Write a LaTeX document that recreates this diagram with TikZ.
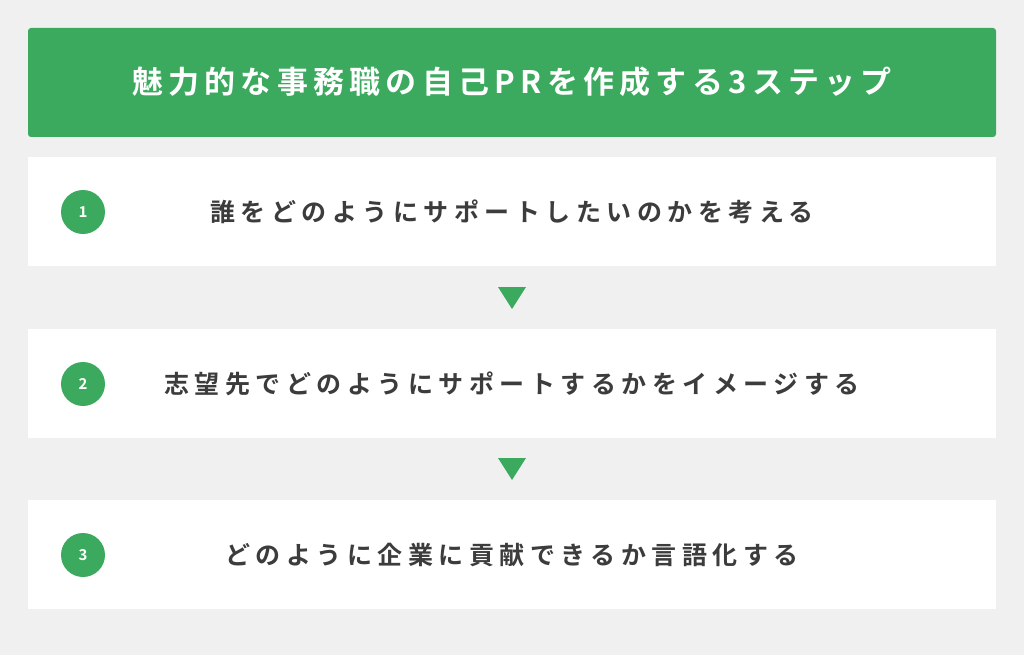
\documentclass[tikz,border=0pt]{standalone}
\usepackage{fontspec}
\newfontfamily\cjk{Noto Sans CJK JP Bold}
\newfontfamily\cjktitle[LetterSpace=17]{Noto Sans CJK JP Bold}
\newfontfamily\cjkstep[LetterSpace=22]{Noto Sans CJK JP Bold}
\definecolor{bg}{HTML}{F0F0F0}
\definecolor{grn}{HTML}{3BAA5E}
\definecolor{txt}{HTML}{3C3C3C}
\tikzset{
 card/.style={fill=white,draw=none},
 num/.style={circle,fill=grn,minimum size=44pt,inner sep=0pt,text=white,font=\cjk\fontsize{15}{15}\selectfont},
 steptext/.style={text=txt,font=\cjkstep\fontsize{25}{25}\selectfont},
 tri/.style={fill=grn,draw=none}
}
\begin{document}
\begin{tikzpicture}[x=1pt,y=-1pt]
\fill[bg] (0,0) rectangle (1024,655);
\useasboundingbox (0,0) rectangle (1024,655);
\fill[grn,rounded corners=3pt] (28,28) rectangle (996,137);
\node[text=white,font=\cjktitle\fontsize{31}{31}\selectfont] (title) at (512,82) {魅力的な事務職の自己PRを作成する3ステップ};
\foreach \i/\y/\t in {1/157/誰をどのようにサポートしたいのかを考える,2/329/志望先でどのようにサポートするかをイメージする,3/500/どのように企業に貢献できるか言語化する}{
 \fill[card] (28,\y) rectangle (996,\y+109);
 \node[num] (n\i) at (83,\y+55) {\i};
 \node[steptext] (s\i) at (512,\y+55) {\t};
}
\fill[tri] (498,287) -- (526,287) -- (512,309) -- cycle;
\fill[tri] (498,458) -- (526,458) -- (512,480) -- cycle;
\end{tikzpicture}
\end{document}
